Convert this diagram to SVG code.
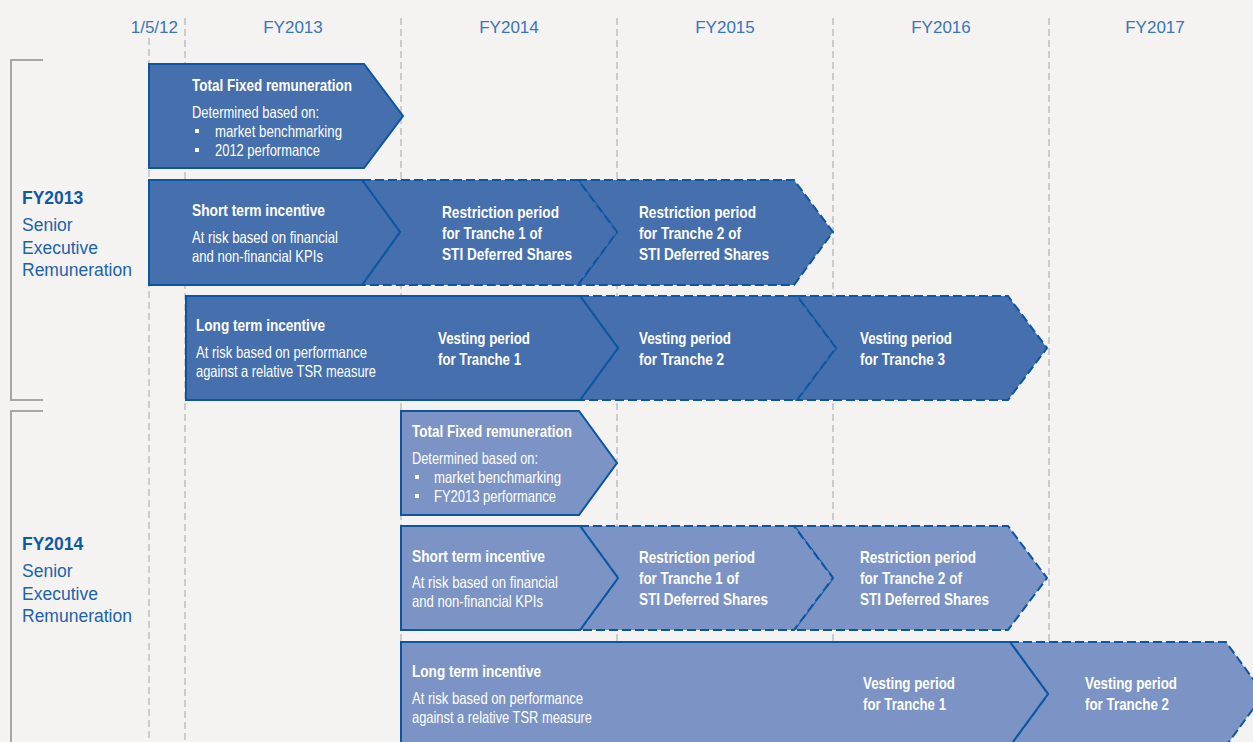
<svg xmlns="http://www.w3.org/2000/svg" xmlns:xlink="http://www.w3.org/1999/xlink" width="1253" height="742" viewBox="0 0 1253 742">
<style>
.bg{fill:#f4f3f1}
.grid{stroke:#b4b4b4;stroke-width:1.2;stroke-dasharray:7 4;fill:none}
.brk{stroke:#a6a6a6;stroke-width:2;fill:none}
.hdr{font-family:"Liberation Sans",Arial,sans-serif;font-size:17px;fill:#3a75bb}
.lbl{font-family:"Liberation Sans",Arial,sans-serif;font-size:17.5px;fill:#1c62ae}
.lblb{font-weight:bold;fill:#0f59a5}
.dk{fill:#466fae}
.lt{fill:#7b93c5}
.sol{stroke:#0b55a2;stroke-width:2;stroke-linejoin:miter}
.dsh{stroke:#0b55a2;stroke-width:2;stroke-dasharray:9 4}
.t{font-family:"Liberation Sans",Arial,sans-serif;font-size:16.5px;fill:#ffffff}
.tb{font-weight:bold}
.bul{fill:#ffffff}
</style>
<rect class="bg" x="0" y="0" width="1253" height="742"/>
<g id="timeline">
<line class="grid" x1="149" y1="38" x2="149" y2="742"/>
<line class="grid" x1="185" y1="18" x2="185" y2="742"/>
<line class="grid" x1="401" y1="18" x2="401" y2="742"/>
<line class="grid" x1="617" y1="18" x2="617" y2="742"/>
<line class="grid" x1="833" y1="18" x2="833" y2="742"/>
<line class="grid" x1="1049" y1="18" x2="1049" y2="742"/>
<text class="hdr" x="178" y="33" text-anchor="end">1/5/12</text>
<text class="hdr" x="293" y="33" text-anchor="middle">FY2013</text>
<text class="hdr" x="509" y="33" text-anchor="middle">FY2014</text>
<text class="hdr" x="725" y="33" text-anchor="middle">FY2015</text>
<text class="hdr" x="941" y="33" text-anchor="middle">FY2016</text>
<text class="hdr" x="1155" y="33" text-anchor="middle">FY2017</text>
</g>
<g id="group-fy2013">
<path class="brk" d="M43,60 H11 V400 H43"/>
<text class="lbl lblb" x="22" y="204">FY2013</text>
<text class="lbl" x="22" y="231">Senior</text>
<text class="lbl" x="22" y="254">Executive</text>
<text class="lbl" x="22" y="276">Remuneration</text>
</g>
<g id="group-fy2014">
<path class="brk" d="M43,411 H11 V742"/>
<text class="lbl lblb" x="22" y="550">FY2014</text>
<text class="lbl" x="22" y="577">Senior</text>
<text class="lbl" x="22" y="600">Executive</text>
<text class="lbl" x="22" y="622">Remuneration</text>
</g>
<g id="connectors"></g>

<g id="fy13-tfr">
<polygon class="dk sol" points="149,64 364,64 403,116 364,168 149,168"/>
<text class="t tb" x="192" y="91" textLength="160" lengthAdjust="spacingAndGlyphs">Total Fixed remuneration</text>
<text class="t" x="192" y="118" textLength="127" lengthAdjust="spacingAndGlyphs">Determined based on:</text>
<rect class="bul" x="195" y="129" width="4" height="4"/>
<text class="t" x="215" y="137" textLength="127" lengthAdjust="spacingAndGlyphs">market benchmarking</text>
<rect class="bul" x="195" y="148" width="4" height="4"/>
<text class="t" x="215" y="156" textLength="105" lengthAdjust="spacingAndGlyphs">2012 performance</text>
</g>

<g id="fy13-sti-r2">
<polygon class="dk dsh" points="578,180 794,180 833,232 794,285 578,285 617,232"/>
<text class="t tb" x="639" y="218" textLength="117" lengthAdjust="spacingAndGlyphs">Restriction period</text>
<text class="t tb" x="639" y="239" textLength="102" lengthAdjust="spacingAndGlyphs">for Tranche 2 of</text>
<text class="t tb" x="639" y="260" textLength="130" lengthAdjust="spacingAndGlyphs">STI Deferred Shares</text>
</g>
<g id="fy13-sti-r1">
<polygon class="dk dsh" points="362,180 578,180 617,232 578,285 362,285 400,232"/>
<text class="t tb" x="442" y="218" textLength="117" lengthAdjust="spacingAndGlyphs">Restriction period</text>
<text class="t tb" x="442" y="239" textLength="100" lengthAdjust="spacingAndGlyphs">for Tranche 1 of</text>
<text class="t tb" x="442" y="260" textLength="130" lengthAdjust="spacingAndGlyphs">STI Deferred Shares</text>
</g>
<g id="fy13-sti">
<polygon class="dk sol" points="149,180 362,180 400,232 362,285 149,285"/>
<text class="t tb" x="192" y="216" textLength="133" lengthAdjust="spacingAndGlyphs">Short term incentive</text>
<text class="t" x="192" y="243" textLength="146" lengthAdjust="spacingAndGlyphs">At risk based on financial</text>
<text class="t" x="192" y="262" textLength="131" lengthAdjust="spacingAndGlyphs">and non-financial KPIs</text>
</g>

<g id="fy13-lti-t3">
<polygon class="dk dsh" points="797,296 1008,296 1047,348 1008,400 797,400 836,348"/>
<text class="t tb" x="860" y="344" textLength="92" lengthAdjust="spacingAndGlyphs">Vesting period</text>
<text class="t tb" x="860" y="365" textLength="85" lengthAdjust="spacingAndGlyphs">for Tranche 3</text>
</g>
<g id="fy13-lti-t2">
<polygon class="dk dsh" points="580,296 797,296 836,348 797,400 580,400 618,348"/>
<text class="t tb" x="639" y="344" textLength="92" lengthAdjust="spacingAndGlyphs">Vesting period</text>
<text class="t tb" x="639" y="365" textLength="85" lengthAdjust="spacingAndGlyphs">for Tranche 2</text>
</g>
<g id="fy13-lti">
<polygon class="dk sol" points="186,296 580,296 618,348 580,400 186,400"/>
<text class="t tb" x="196" y="331" textLength="129" lengthAdjust="spacingAndGlyphs">Long term incentive</text>
<text class="t" x="196" y="358" textLength="171" lengthAdjust="spacingAndGlyphs">At risk based on performance</text>
<text class="t" x="196" y="377" textLength="180" lengthAdjust="spacingAndGlyphs">against a relative TSR measure</text>
<text class="t tb" x="438" y="344" textLength="92" lengthAdjust="spacingAndGlyphs">Vesting period</text>
<text class="t tb" x="438" y="365" textLength="83" lengthAdjust="spacingAndGlyphs">for Tranche 1</text>
</g>

<g id="fy14-tfr">
<polygon class="lt sol" points="401,411 579,411 617,463 579,515 401,515"/>
<text class="t tb" x="412" y="437" textLength="160" lengthAdjust="spacingAndGlyphs">Total Fixed remuneration</text>
<text class="t" x="412" y="464" textLength="126" lengthAdjust="spacingAndGlyphs">Determined based on:</text>
<rect class="bul" x="415" y="475" width="4" height="4"/>
<text class="t" x="434" y="483" textLength="127" lengthAdjust="spacingAndGlyphs">market benchmarking</text>
<rect class="bul" x="415" y="494" width="4" height="4"/>
<text class="t" x="434" y="502" textLength="122" lengthAdjust="spacingAndGlyphs">FY2013 performance</text>
</g>

<g id="fy14-sti-r2">
<polygon class="lt dsh" points="794,526 1008,526 1047,578 1008,630 794,630 833,578"/>
<text class="t tb" x="860" y="563" textLength="116" lengthAdjust="spacingAndGlyphs">Restriction period</text>
<text class="t tb" x="860" y="584" textLength="102" lengthAdjust="spacingAndGlyphs">for Tranche 2 of</text>
<text class="t tb" x="860" y="605" textLength="129" lengthAdjust="spacingAndGlyphs">STI Deferred Shares</text>
</g>
<g id="fy14-sti-r1">
<polygon class="lt dsh" points="580,526 794,526 833,578 794,630 580,630 618,578"/>
<text class="t tb" x="639" y="563" textLength="116" lengthAdjust="spacingAndGlyphs">Restriction period</text>
<text class="t tb" x="639" y="584" textLength="100" lengthAdjust="spacingAndGlyphs">for Tranche 1 of</text>
<text class="t tb" x="639" y="605" textLength="129" lengthAdjust="spacingAndGlyphs">STI Deferred Shares</text>
</g>
<g id="fy14-sti">
<polygon class="lt sol" points="401,526 580,526 618,578 580,630 401,630"/>
<text class="t tb" x="412" y="562" textLength="133" lengthAdjust="spacingAndGlyphs">Short term incentive</text>
<text class="t" x="412" y="588" textLength="146" lengthAdjust="spacingAndGlyphs">At risk based on financial</text>
<text class="t" x="412" y="607" textLength="131" lengthAdjust="spacingAndGlyphs">and non-financial KPIs</text>
</g>

<g id="fy14-lti-t2">
<polygon class="lt dsh" points="1010,642 1226,642 1264,694 1226,746 1010,746 1048,694"/>
<text class="t tb" x="1085" y="689" textLength="92" lengthAdjust="spacingAndGlyphs">Vesting period</text>
<text class="t tb" x="1085" y="710" textLength="84" lengthAdjust="spacingAndGlyphs">for Tranche 2</text>
</g>
<g id="fy14-lti">
<polygon class="lt sol" points="401,642 1010,642 1048,694 1010,746 401,746"/>
<text class="t tb" x="412" y="677" textLength="129" lengthAdjust="spacingAndGlyphs">Long term incentive</text>
<text class="t" x="412" y="704" textLength="171" lengthAdjust="spacingAndGlyphs">At risk based on performance</text>
<text class="t" x="412" y="723" textLength="180" lengthAdjust="spacingAndGlyphs">against a relative TSR measure</text>
<text class="t tb" x="863" y="689" textLength="92" lengthAdjust="spacingAndGlyphs">Vesting period</text>
<text class="t tb" x="863" y="710" textLength="83" lengthAdjust="spacingAndGlyphs">for Tranche 1</text>
</g>
</svg>
